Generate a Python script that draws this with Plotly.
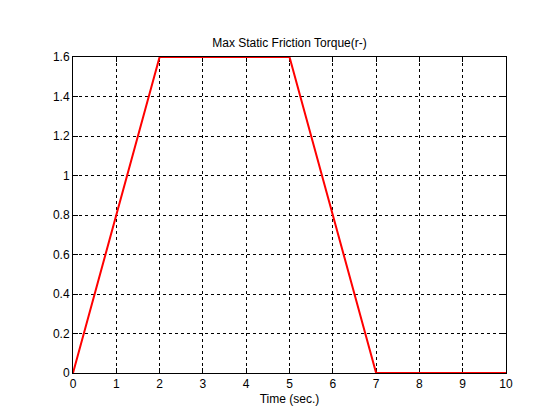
import plotly.graph_objects as go

time_s = [0, 2, 5, 7, 10]
torque = [0, 1.6, 1.6, 0, 0]
x_ticks = list(range(0, 11))
y_ticks = [0, 0.2, 0.4, 0.6, 0.8, 1, 1.2, 1.4, 1.6]
y_labels = ["0", "0.2", "0.4", "0.6", "0.8", "1", "1.2", "1.4", "1.6"]

fig = go.Figure()
fig.add_trace(go.Scatter(x=time_s, y=torque, mode="lines",
                         line=dict(color="#ff0000", width=2),
                         cliponaxis=False, showlegend=False))

axis_common = dict(
    showline=True, linecolor="black", linewidth=1, mirror="ticks",
    ticks="inside", ticklen=5, tickcolor="black", tickwidth=1,
    showgrid=True, gridcolor="black", gridwidth=1, griddash="3px,3px",
    zeroline=False, layer="below traces",
    tickfont=dict(family="Liberation Sans, Arial, sans-serif", size=12, color="black"),
)

fig.update_xaxes(range=[0, 10], tickvals=x_ticks, ticktext=[str(v) for v in x_ticks],
                 title=dict(text="Time (sec.)", standoff=4,
                            font=dict(family="Liberation Sans, Arial, sans-serif", size=12, color="black")),
                 **axis_common)
fig.update_yaxes(range=[0, 1.6], tickvals=y_ticks, ticktext=y_labels, **axis_common)

fig.update_layout(
    width=552, height=412,
    margin=dict(l=65, r=54, t=49, b=47),
    paper_bgcolor="white", plot_bgcolor="white",
    title=dict(text="Max Static Friction Torque(r-)", x=0.5, xanchor="center",
               xref="paper", y=1 - 35/412, yanchor="middle",
               font=dict(family="Liberation Sans, Arial, sans-serif", size=12, color="black")),
)

fig.write_html("out.html")
